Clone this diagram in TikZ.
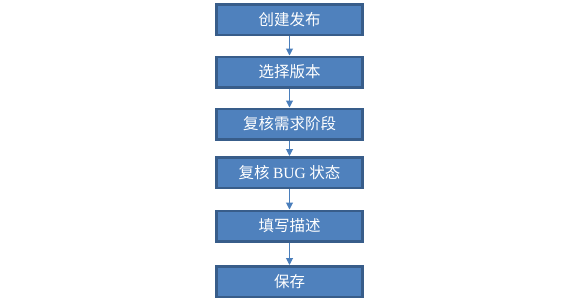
\documentclass[tikz,border=0pt]{standalone}
\usepackage{fontspec}
\setmainfont{Liberation Serif}
\newfontfamily\cjk{Noto Sans CJK SC}
\usetikzlibrary{arrows.meta}
\definecolor{boxfill}{HTML}{4F81BD}
\definecolor{boxedge}{HTML}{385D8A}
\definecolor{arr}{HTML}{4A7EBB}
\begin{document}
\begin{tikzpicture}[x=1pt,y=-1pt,
  stepbox/.style={draw=boxedge,line width=2.5pt,fill=boxfill,minimum width=146pt,minimum height=30.5pt,inner sep=0pt,text=white,font=\fontsize{15.5}{17}\selectfont\cjk},
  flow/.style={draw=arr,line width=1pt,-{Triangle[length=7pt,width=7pt]}}]
\useasboundingbox (0,0) rectangle (576,306);
\node[stepbox] (a) at (289.5,19.5) {创建发布};
\node[stepbox] (b) at (289.5,72) {选择版本};
\node[stepbox] (c) at (289.5,124) {复核需求阶段};
\node[stepbox] (d) at (289.5,172.5) {复核 {\rmfamily BUG} 状态};
\node[stepbox] (e) at (289.5,226) {填写描述};
\node[stepbox] (f) at (289.5,281.5) {保存};
\draw[flow] (a) -- (b);
\draw[flow] (b) -- (c);
\draw[flow] (c) -- (d);
\draw[flow] (d) -- (e);
\draw[flow] (e) -- (f);
\end{tikzpicture}
\end{document}
